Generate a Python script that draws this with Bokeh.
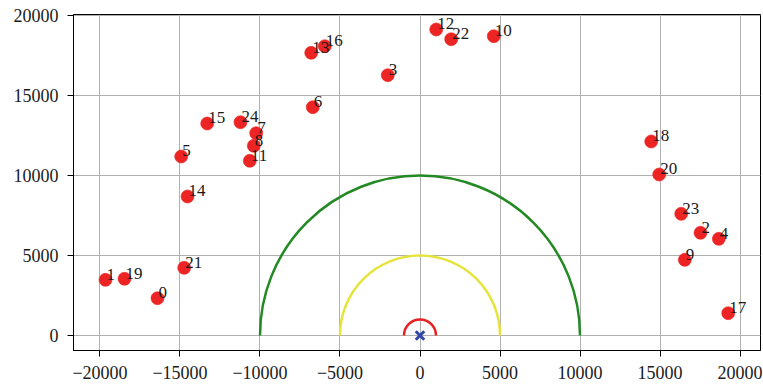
from bokeh.plotting import figure
from bokeh.models import Range1d, FixedTicker, CustomJSTickFormatter, ColumnDataSource
from bokeh.core.properties import value
from bokeh.embed import file_html
from bokeh.resources import INLINE
import math

ids = [str(i) for i in range(25)]
xs = [-16406, -19656, 17531, -2013, 18675, -14925, -6700, -10238, -10388, 16550,
      4613, -10638, 1013, -6800, -14531, -13300, -5950, 19263, 14450, -18469,
      14950, -14738, 1950, 16325, -11219]
ys = [2331, 3481, 6419, 16269, 6044, 11188, 14269, 12644, 11856, 4731,
      18706, 10919, 19125, 17669, 8688, 13250, 18081, 1394, 12125, 3544,
      10063, 4231, 18519, 7606, 13331]
radii = [1000, 5000, 10000]
radius_colors = ["#e82222", "#e6e43c", "#238a23"]
x_ticks = [-20000, -15000, -10000, -5000, 0, 5000, 10000, 15000, 20000]
y_ticks = [0, 5000, 10000, 15000, 20000]

FONT = "Liberation Serif"

p = figure(width=763, height=387, output_backend="svg", toolbar_location=None,
           x_range=Range1d(-21656, 21281), y_range=Range1d(-937, 20062),
           min_border_left=73, min_border_right=3, min_border_top=14, min_border_bottom=37)

p.outline_line_color = "black"
p.outline_line_width = 1
p.background_fill_color = "white"
p.border_fill_color = "white"

for ax in (p.xaxis[0], p.yaxis[0]):
    ax.axis_line_color = "black"
    ax.major_tick_line_color = "black"
    ax.major_tick_out = 6
    ax.major_tick_in = 0
    ax.minor_tick_line_color = None
    ax.major_label_text_font = FONT
    ax.major_label_text_font_size = "18px"
    ax.major_label_text_color = "#1a1a1a"
    ax.major_label_standoff = 9
    ax.formatter = CustomJSTickFormatter(code="return tick < 0 ? '\u2212' + Math.abs(tick) : '' + tick;")

p.xaxis[0].ticker = FixedTicker(ticks=x_ticks)
p.yaxis[0].ticker = FixedTicker(ticks=y_ticks)

p.xgrid.ticker = FixedTicker(ticks=x_ticks)
p.ygrid.ticker = FixedTicker(ticks=y_ticks)
p.grid.grid_line_color = "#b0b0b0"
p.grid.grid_line_width = 1

for r, c in zip(radii, radius_colors):
    p.arc(x=0, y=0, radius=r, start_angle=0, end_angle=math.pi,
          line_color=c, line_width=2.5)

p.scatter(x=[0], y=[0], marker="x", size=12, line_color="#3048a8", line_width=3)

src = ColumnDataSource(dict(x=xs, y=ys, label=ids))
p.scatter(x="x", y="y", source=src, size=13, fill_color="#ec2424", line_color="#ec2424", line_alpha=0.6)
p.text(x="x", y="y", text="label", source=src, text_font=value(FONT),
       text_font_size="17px", text_color="#1a1a1a", text_align="left",
       text_baseline="bottom", x_offset=1, y_offset=0)

open("out.html", "w").write(file_html(p, INLINE))
